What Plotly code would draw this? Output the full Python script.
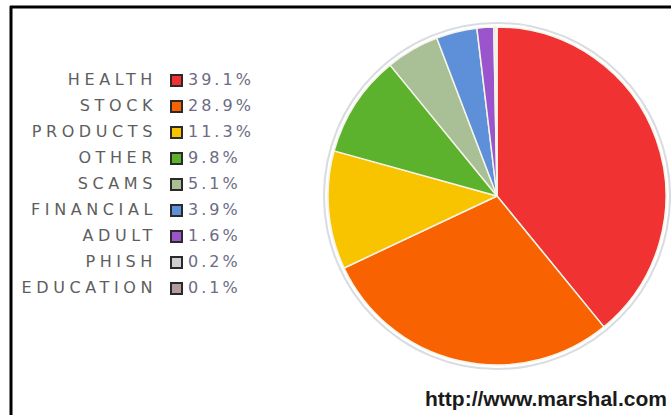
import plotly.graph_objects as go

categories = ["HEALTH", "STOCK", "PRODUCTS", "OTHER", "SCAMS", "FINANCIAL", "ADULT", "PHISH", "EDUCATION"]
shares = [39.1, 28.9, 11.3, 9.8, 5.1, 3.9, 1.6, 0.2, 0.1]
colors = ["#F03232", "#F86200", "#F8C400", "#5CB22C", "#A9BF95", "#5D90D8", "#9A55CC", "#CFCFCF", "#B49C9C"]
source = "http://www.marshal.com"

W, H = 671, 415
cx, cy, R = 497, 196, 169

def dom(r):
    return dict(x=[(cx - r) / W, (cx + r) / W], y=[1 - (cy + r) / H, 1 - (cy - r) / H])

fig = go.Figure()
# outer shadow and white rim
fig.add_trace(go.Pie(values=[1], marker=dict(colors=["#D9DDE2"]), domain=dom(R + 5),
                     textinfo="none", hoverinfo="skip", showlegend=False, sort=False))
fig.add_trace(go.Pie(values=[1], marker=dict(colors=["#FFFFFF"]), domain=dom(R + 3),
                     textinfo="none", hoverinfo="skip", showlegend=False, sort=False))
fig.add_trace(go.Pie(labels=categories, values=shares, sort=False, direction="clockwise", rotation=0,
                     marker=dict(colors=colors, line=dict(color="#F4F4E8", width=1.5)),
                     domain=dom(R), textinfo="none", showlegend=False))

# legend built from data
row_y = [80.5 + i * 26 for i in range(len(categories))]
sp = '<span style="letter-spacing:4.6px">{}</span>'
sp2 = '<span style="letter-spacing:3px">{}</span>'
fig.add_trace(go.Scatter(x=[157] * len(categories), y=row_y, mode="text",
                         text=[sp.format(c) for c in categories], textposition="middle left",
                         textfont=dict(family="DejaVu Sans", size=16, color="#5e5e5e"),
                         hoverinfo="skip", showlegend=False))
fig.add_trace(go.Scatter(x=[176.5] * len(categories), y=row_y, mode="markers",
                         marker=dict(symbol="square", size=11, color=colors, line=dict(color="#2a2a2a", width=2)),
                         hoverinfo="skip", showlegend=False))
fig.add_trace(go.Scatter(x=[188] * len(categories), y=row_y, mode="text",
                         text=[sp2.format(f"{v}%") for v in shares], textposition="middle right",
                         textfont=dict(family="DejaVu Sans", size=16, color="#6c6c84"),
                         hoverinfo="skip", showlegend=False))

fig.update_layout(
    width=W, height=H, margin=dict(l=0, r=0, t=0, b=0),
    paper_bgcolor="white", plot_bgcolor="rgba(0,0,0,0)",
    xaxis=dict(range=[0, W], visible=False, fixedrange=True),
    yaxis=dict(range=[H, 0], visible=False, fixedrange=True),
    shapes=[
        dict(type="line", xref="x", yref="y", x0=10, x1=W, y0=7, y1=7, line=dict(color="black", width=3)),
        dict(type="line", xref="x", yref="y", x0=11, x1=11, y0=6, y1=H, line=dict(color="black", width=3)),
    ],
    annotations=[dict(text=source, xref="x", yref="y", x=669, y=398, xanchor="right", yanchor="middle",
                      showarrow=False, font=dict(family="Liberation Sans", size=21, color="#1a1a1a", weight="bold"))],
)

fig.write_html("out.html", config={"displayModeBar": False},
               post_script="document.body.style.margin='0';document.body.style.overflow='hidden';")
